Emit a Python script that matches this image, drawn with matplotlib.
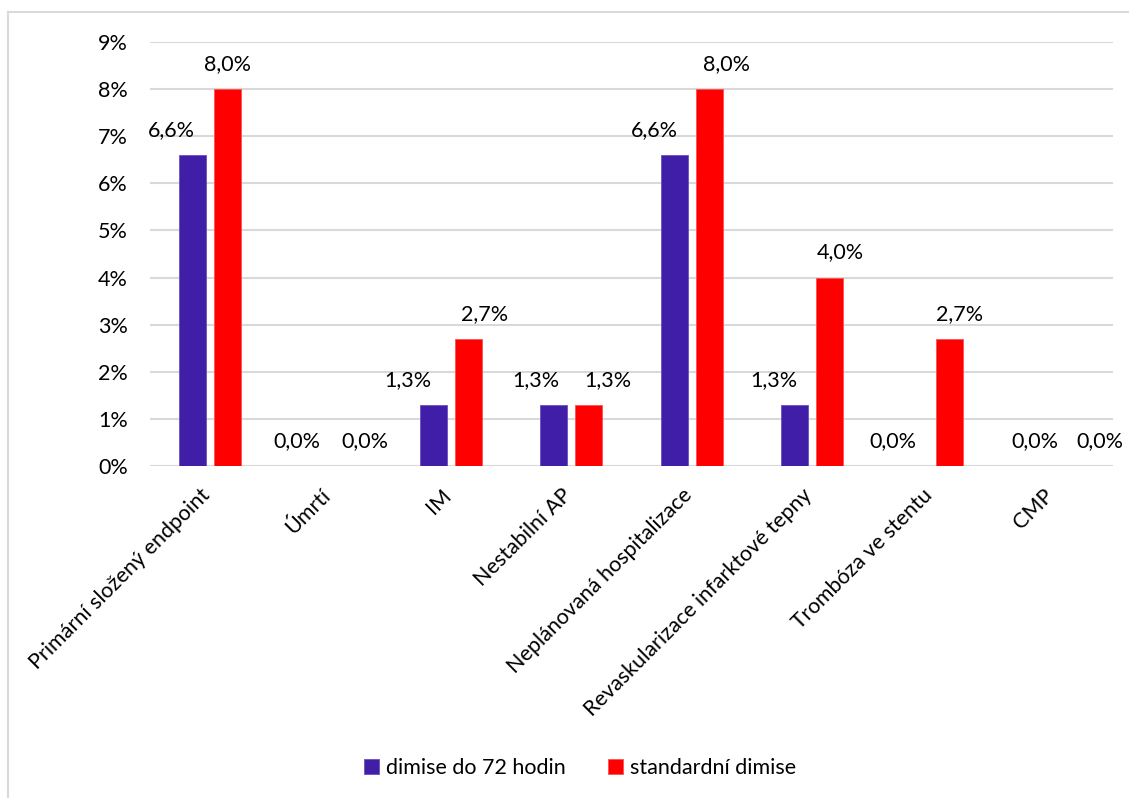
import matplotlib.pyplot as plt
from matplotlib.lines import Line2D
from matplotlib.transforms import ScaledTranslation
import numpy as np

plt.rcParams['font.family'] = ['Lato', 'DejaVu Sans']

# endpoint categories
categories = ['Primární složený endpoint', 'Úmrtí', 'IM', 'Nestabilní AP',
              'Neplánovaná hospitalizace', 'Revaskularizace infarktové tepny',
              'Trombóza ve stentu', 'CMP']

# event rates in percent
early = [6.6, 0.0, 1.3, 1.3, 6.6, 1.3, 0.0, 0.0]
standard = [8.0, 0.0, 2.7, 1.3, 8.0, 4.0, 2.7, 0.0]

series_names = ['dimise do 72 hodin', 'standardní dimise']

# horizontal nudges of the value labels (pixels)
early_dx = [-21, -16, -26, -18, -20, -21, -22, 0]
standard_dx = [0, 17, 16, 19, 17, 11, 10, 30]

blue = '#401EA8'
red = '#FF0000'
fs = 15.5

W, H = 1129, 798
fig = plt.figure(figsize=(W / 100, H / 100), dpi=100)
ax = fig.add_axes([150 / W, 1 - 466 / H, (1113 - 150) / W, (466 - 42) / H])

x = np.arange(len(categories))
bw = 0.225
off = 0.145
b1 = ax.bar(x - off, np.array(early) / 100, bw, color=blue, edgecolor='#6a50c0',
            linewidth=0.6, label=series_names[0], zorder=3)
b2 = ax.bar(x + off, np.array(standard) / 100, bw, color=red, edgecolor='#ff5050',
            linewidth=0.6, label=series_names[1], zorder=3)

ax.set_xlim(-0.5, len(categories) - 0.5)
ax.set_ylim(0, 0.09)
ax.set_yticks(np.arange(0, 0.091, 0.01))
ax.set_yticklabels([f'{i}%' for i in range(10)])
ax.yaxis.grid(True, color='#d9d9d9', linewidth=1.5, zorder=0)
ax.set_axisbelow(True)
for s in ax.spines.values():
    s.set_visible(False)
ax.tick_params(axis='both', length=0, labelsize=fs, colors='#000000')
ax.tick_params(axis='y', pad=16)

ax.set_xticks(x)
ax.set_xticklabels(categories, rotation=45, ha='right', rotation_mode='anchor',
                   fontsize=fs)
shift = ScaledTranslation(-0.10, -0.14, fig.dpi_scale_trans)
for lab in ax.get_xticklabels():
    lab.set_transform(lab.get_transform() + shift)

def fmt(v):
    return f'{v:.1f}%'.replace('.', ',')

for bars, vals, dxs in ((b1, early, early_dx), (b2, standard, standard_dx)):
    for bar, v, dx in zip(bars, vals, dxs):
        ax.annotate(fmt(v), (bar.get_x() + bar.get_width() / 2, v / 100),
                    xytext=(dx * 0.72, 25 * 0.72), textcoords='offset points',
                    ha='center', va='center', fontsize=fs)

fig.legend(loc='center', bbox_to_anchor=(580 / W, 1 - 768 / H), ncol=2,
           frameon=False, fontsize=fs, handlelength=0.7, handleheight=0.7,
           handletextpad=0.3, columnspacing=2.0)

# chart frame
fig.add_artist(Line2D([8 / W, 8 / W], [0, 1 - 12 / H], color='#d9d9d9', linewidth=1.5))
fig.add_artist(Line2D([8 / W, 1], [1 - 12 / H, 1 - 12 / H], color='#d9d9d9', linewidth=1.5))

fig.savefig('out.png', dpi=100)
